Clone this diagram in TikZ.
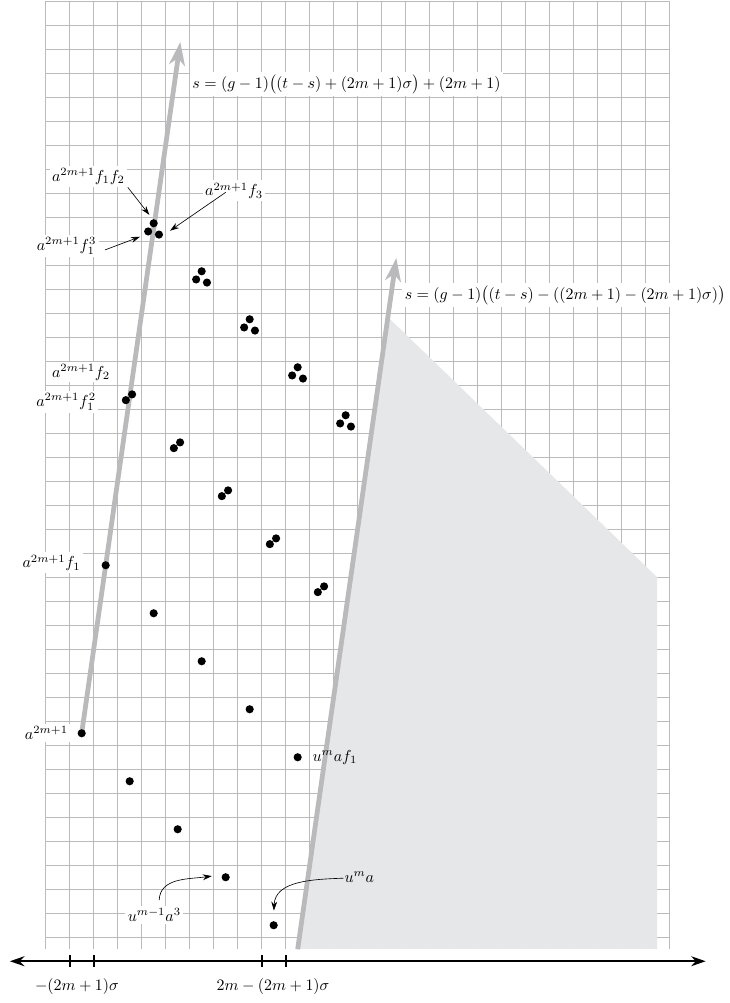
\documentclass[tikz,border=0pt]{standalone}
\usetikzlibrary{arrows.meta}
\definecolor{gridc}{RGB}{187,187,187}
\definecolor{regc}{RGB}{230,231,233}
\definecolor{arrc}{RGB}{186,186,188}
\begin{document}
\begin{tikzpicture}[x=0.53cm,y=0.53cm,
  dot/.style={circle,fill=black,inner sep=0pt,minimum size=0.18cm},
  lbl/.style={fill=white,inner sep=1.5pt},
  plainlbl/.style={inner sep=1.5pt},
  gridline/.style={gridc,line width=0.6pt},
  bigarrow/.style={arrc,line width=3pt,-{Stealth[length=0.52cm,width=0.36cm,inset=0.16cm,line width=0pt]}},
  ptr/.style={black,line width=0.4pt,-{Stealth[length=2mm,width=1.3mm]}},
  axisline/.style={line width=1.2pt,{Stealth[length=3.2mm,width=2.2mm]}-{Stealth[length=3.2mm,width=2.2mm]}},
  tick/.style={line width=1.2pt}
]
\useasboundingbox (-1.904,-2.24) rectangle (28.51,39.555);
% grid
\foreach \i in {0,...,26} \draw[gridline] (\i,0) -- (\i,39.5);
\foreach \j in {0,...,39} \draw[gridline] (0,\j+0.5) -- (26,\j+0.5);
% shaded region
\fill[regc] (10.5,0) -- (14.26,26.34) -- (25.48,15.5) -- (25.48,0) -- cycle;
% axis
\coordinate (axL) at (-1.49,-0.5);
\coordinate (axR) at (27.5,-0.5);
\draw[axisline] (axL) -- (axR);
\foreach \t in {1,2,9,10} \draw[tick] (\t,-0.75) -- (\t,-0.25);
\node (L1) at (1.3,-1.57) {$-(2m+1)\sigma$};
\node (L2) at (9.47,-1.57) {$2m-(2m+1)\sigma$};
% big arrows
\coordinate (d0) at (1.5,9);
\coordinate (tip1) at (5.61,37.8);
\coordinate (s2) at (10.5,0);
\coordinate (tip2) at (14.61,28.8);
\draw[bigarrow] (d0) -- (tip1);
\draw[bigarrow] (s2) -- (tip2);
% dots: singles
\node[dot] (A1) at (1.5,9) {};
\node[dot] (A2) at (3.5,7) {};
\node[dot] (A3) at (5.5,5) {};
\node[dot] (A4) at (7.5,3) {};
\node[dot] (A5) at (9.5,1) {};
\node[dot] (B1) at (2.5,16) {};
\node[dot] (B2) at (4.5,14) {};
\node[dot] (B3) at (6.5,12) {};
\node[dot] (B4) at (8.5,10) {};
\node[dot] (B5) at (10.5,8) {};
% doubles
\foreach \n/\x/\y in {1/3.5/23,2/5.5/21,3/7.5/19,4/9.5/17,5/11.5/15}{
  \node[dot] (C\n a) at (\x-0.16,\y-0.12) {};
  \node[dot] (C\n b) at (\x+0.1,\y+0.12) {};
}
% triples
\foreach \n/\x/\y in {1/4.5/30,2/6.5/28,3/8.5/26,4/10.5/24,5/12.5/22}{
  \node[dot] (D\n a) at (\x-0.23,\y-0.09) {};
  \node[dot] (D\n b) at (\x,\y+0.25) {};
  \node[dot] (D\n c) at (\x+0.22,\y-0.22) {};
}
% formula labels
\node[lbl,anchor=west] (F1) at (6.0,36.05) {$s=(g-1)\big((t-s)+(2m+1)\sigma\big)+(2m+1)$};
\node[lbl,anchor=west] (F2) at (14.85,27.25) {$s=(g-1)\big((t-s)-((2m+1)-(2m+1)\sigma)\big)$};
% dot labels
\node[lbl] (Lf1f2) at (1.78,32.2) {$a^{2m+1}f_1f_2$};
\node[lbl] (Lf3) at (7.85,31.6) {$a^{2m+1}f_3$};
\node[lbl] (Lf13) at (0.87,29.3) {$a^{2m+1}f_1^3$};
\node[lbl] (Lf2) at (1.47,24.05) {$a^{2m+1}f_2$};
\node[lbl] (Lf12) at (0.85,22.8) {$a^{2m+1}f_1^2$};
\node[lbl] (Lf1) at (0.24,16.1) {$a^{2m+1}f_1$};
\node[lbl] (La) at (0.03,9) {$a^{2m+1}$};
\node[plainlbl] (Luaf) at (12.05,8.0) {$u^maf_1$};
\node[plainlbl] (Lua) at (13.07,3.0) {$u^ma$};
\node[lbl] (Lua3) at (4.53,1.43) {$u^{m-1}a^3$};
% pointer arrows
\coordinate (p1s) at (3.42,31.75); \coordinate (p1e) at (4.32,30.6);
\coordinate (p2s) at (2.47,29.14); \coordinate (p2e) at (3.93,29.69);
\coordinate (p3s) at (7.5,31.54);  \coordinate (p3e) at (5.18,29.94);
\coordinate (p4s) at (4.73,2.05);  \coordinate (p4e) at (6.92,3.05);
\coordinate (p5s) at (12.4,2.96);  \coordinate (p5e) at (9.51,1.61);
\draw[ptr] (p1s) -- (p1e);
\draw[ptr] (p2s) -- (p2e);
\draw[ptr] (p3s) -- (p3e);
\draw[ptr] (p4s) to[out=88,in=188] (p4e);
\draw[ptr] (p5s) to[out=182,in=88] (p5e);
\end{tikzpicture}
\end{document}
